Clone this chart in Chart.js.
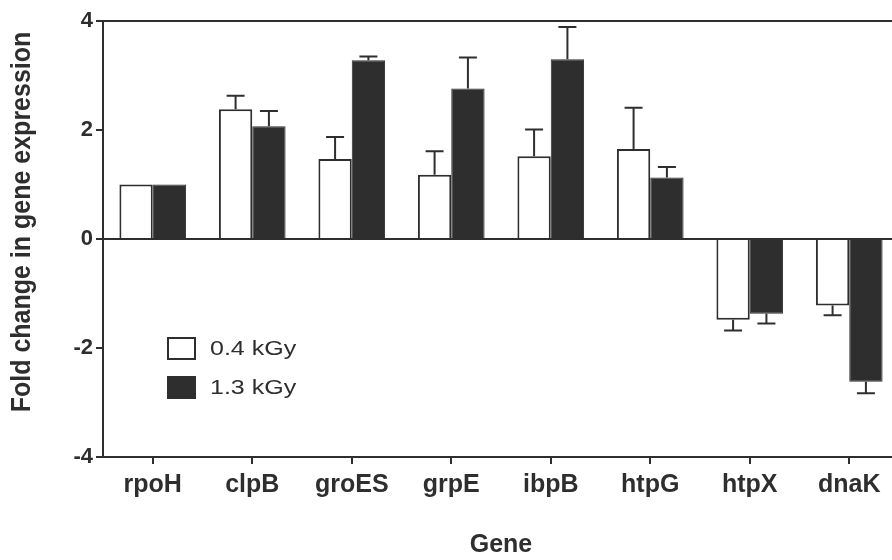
<!DOCTYPE html>
<html>
<head>
<meta charset="utf-8">
<script src="https://cdn.jsdelivr.net/npm/chart.js@4.4.1/dist/chart.umd.min.js"></script>
<style>
  html, body { margin: 0; padding: 0; background: #fff; overflow: hidden; }
  #wrap { width: 899px; height: 560px; position: relative; }
</style>
</head>
<body>
<div id="wrap"><canvas id="geneChart"></canvas></div>
<script>
// -----------------------
// Data
// -----------------------
const genes = ['rpoH', 'clpB', 'groES', 'grpE', 'ibpB', 'htpG', 'htpX', 'dnaK'];
const yTicks = [-4, -2, 0, 2, 4];

const low = [1.0, 2.38, 1.47, 1.18, 1.52, 1.65, -1.48, -1.22];      // 0.4 kGy
const lowErr = [0, 0.25, 0.40, 0.43, 0.49, 0.76, 0.20, 0.18];
const high = [1.0, 2.07, 3.28, 2.76, 3.30, 1.13, -1.37, -2.62];     // 1.3 kGy
const highErr = [0, 0.28, 0.07, 0.57, 0.59, 0.19, 0.18, 0.21];

const INK = '#2e2e2e';
const FONT = '"Liberation Sans", Arial, Helvetica, sans-serif';

// error bars (away from zero), drawn on the bar ends
const errorBars = {
  id: 'errorBars',
  afterDatasetsDraw(chart) {
    const { ctx } = chart;
    const y = chart.scales.y;
    ctx.save();
    ctx.strokeStyle = INK;
    ctx.lineWidth = 2;
    chart.data.datasets.forEach((ds, di) => {
      const meta = chart.getDatasetMeta(di);
      meta.data.forEach((bar, i) => {
        const e = ds.errors[i];
        if (!e) return;
        const v = ds.data[i];
        const end = y.getPixelForValue(v >= 0 ? v + e : v - e);
        ctx.beginPath();
        ctx.moveTo(bar.x, bar.y);
        ctx.lineTo(bar.x, end);
        ctx.moveTo(bar.x - 9, end);
        ctx.lineTo(bar.x + 9, end);
        ctx.stroke();
      });
    });
    ctx.restore();
  }
};

// legend inside the plot + rotated y title
const extras = {
  id: 'extras',
  afterDraw(chart) {
    const { ctx, chartArea } = chart;
    ctx.save();
    // legend
    chart.data.datasets.forEach((ds, i) => {
      const bx = chartArea.left + 65;
      const by = 338 + i * 39;
      ctx.fillStyle = ds.backgroundColor;
      ctx.strokeStyle = INK;
      ctx.lineWidth = 2;
      ctx.fillRect(bx, by, 27, 21);
      ctx.strokeRect(bx, by, 27, 21);
      ctx.save();
      ctx.translate(bx + 42, by + 11);
      ctx.scale(1.25, 1);
      ctx.fillStyle = INK;
      ctx.font = '20px ' + FONT;
      ctx.textBaseline = 'middle';
      ctx.fillText(ds.label, 0, 0);
      ctx.restore();
    });
    // y title
    ctx.translate(22, 222);
    ctx.rotate(-Math.PI / 2);
    ctx.scale(1, 1.1);
    ctx.fillStyle = INK;
    ctx.font = 'bold 25px ' + FONT;
    ctx.textAlign = 'center';
    ctx.textBaseline = 'middle';
    ctx.fillText('Fold change in gene expression', 0, 0);
    ctx.restore();
  }
};

function initChart() {
  const ctx = document.getElementById('geneChart').getContext('2d');
  Chart.defaults.font.family = FONT;
  Chart.defaults.color = INK;

  new Chart(ctx, {
    type: 'bar',
    data: {
      labels: genes,
      datasets: [
        { label: '0.4 kGy', data: low, errors: lowErr, backgroundColor: '#ffffff', borderColor: INK, borderWidth: 2 },
        { label: '1.3 kGy', data: high, errors: highErr, backgroundColor: INK, borderColor: INK, borderWidth: 1 }
      ]
    },
    options: {
      responsive: true,
      maintainAspectRatio: false,
      animation: false,
      layout: { padding: { top: 21, left: 0, right: 0, bottom: 0 } },
      datasets: { bar: { barPercentage: 1.0, categoryPercentage: 0.67 } },
      plugins: { legend: { display: false }, tooltip: { enabled: false } },
      scales: {
        x: {
          afterFit: s => { s.height = 103; },
          border: { color: INK, width: 2 },
          grid: { drawOnChartArea: false, offset: false, tickLength: 7, tickColor: INK, lineWidth: 2 },
          ticks: { font: { size: 25, weight: 'bold' }, padding: 6, color: INK },
          title: { display: true, text: 'Gene', font: { size: 25, weight: 'bold' }, padding: { top: 0, bottom: 0 }, color: INK }
        },
        y: {
          min: -4,
          max: 4,
          afterFit: s => { s.width = 103; },
          afterBuildTicks: s => { s.ticks = yTicks.map(v => ({ value: v })); },
          border: { color: INK, width: 2 },
          grid: {
            color: c => (c.tick && (c.tick.value === 0 || c.tick.value === 4)) ? INK : 'rgba(0,0,0,0)',
            tickColor: INK,
            tickLength: 7,
            lineWidth: 2
          },
          ticks: { font: { size: 22, weight: 'bold' }, padding: 3, color: INK },
          title: { display: false }
        }
      }
    },
    plugins: [errorBars, extras]
  });
}

document.addEventListener('DOMContentLoaded', initChart);
</script>
</body>
</html>
